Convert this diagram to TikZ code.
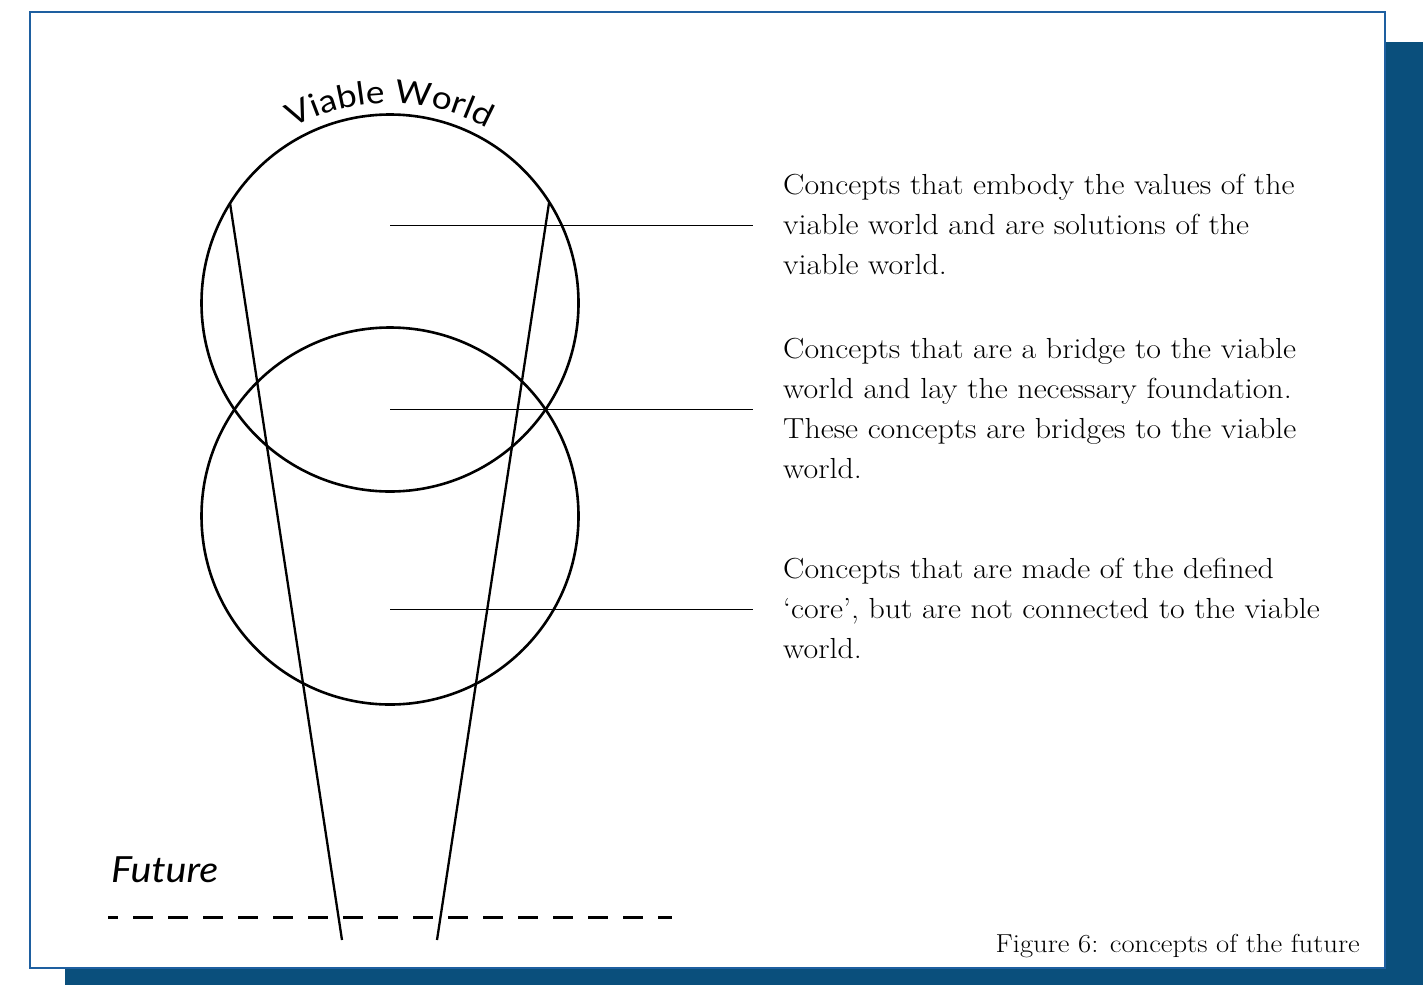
\documentclass[tikz,border=0pt]{standalone}
\usepackage{fontspec}
\setmainfont{Latin Modern Roman}[FakeStretch=1.1]
\newfontfamily\labelfont{Lato}[FakeStretch=1.1]
\usetikzlibrary{decorations.text}
\definecolor{frameblue}{HTML}{1E5FA0}
\definecolor{shadowblue}{HTML}{0A4F7C}

\begin{document}
\begin{tikzpicture}[x=1pt, y=-1pt,
  ring/.style={draw, circle, line width=2.6pt, minimum size=377pt, inner sep=0pt},
  ray/.style={line width=2.3pt},
  leader/.style={line width=1pt},
  note/.style={anchor=west, align=left, inner sep=0pt, font=\fontsize{29}{40}\selectfont}]
  \useasboundingbox (0,0) rectangle (1423,985);
  \fill[shadowblue] (65,42) rectangle (1423,985);
  \draw[frameblue, fill=white, line width=2.5pt] (30,12) rectangle (1385,968);
  \node[ring] (upper) at (390,303) {};
  \node[ring] (lower) at (390,516) {};
  \path[decorate, decoration={text along path, text align=center,
    text={|\labelfont\fontsize{32}{40}\selectfont|Viable World}}]
    (216.8,203) arc[start angle=210, end angle=330, radius=200];
  \coordinate (l1) at (230,203); \coordinate (l2) at (342,940);
  \coordinate (r1) at (549,203); \coordinate (r2) at (437,940);
  \draw[ray] (l1) -- (l2); \draw[ray] (r1) -- (r2);
  \node[note] (t1) at (783,224) {Concepts that embody the values of the\\viable world and are solutions of the\\viable world.};
  \node[note] (t2) at (783,408) {Concepts that are a bridge to the viable\\world and lay the necessary foundation.\\These concepts are bridges to the viable\\world.};
  \node[note] (t3) at (783,608) {Concepts that are made of the defined\\`core', but are not connected to the viable\\world.};
  \coordinate (a1) at (390,225); \coordinate (a2) at (390,409); \coordinate (a3) at (390,609);
  \draw[leader] (a1) -- ([xshift=-30pt]a1 -| t1.west);
  \draw[leader] (a2) -- ([xshift=-30pt]a2 -| t2.west);
  \draw[leader] (a3) -- ([xshift=-30pt]a3 -| t3.west);
  \node[anchor=base west, inner sep=0pt, font=\labelfont\itshape\fontsize{36}{40}\selectfont] (future) at (111,882) {Future};
  \coordinate (d1) at (108,917); \coordinate (d2) at (672,917);
  \draw[line width=3pt, dash pattern=on 20pt off 15pt, dash phase=10pt] (d1) -- (d2);
  \node[anchor=base east, inner sep=0pt, font=\fontsize{26}{30}\selectfont] (caption) at (1360,952) {Figure 6: concepts of the future};
\end{tikzpicture}
\end{document}
